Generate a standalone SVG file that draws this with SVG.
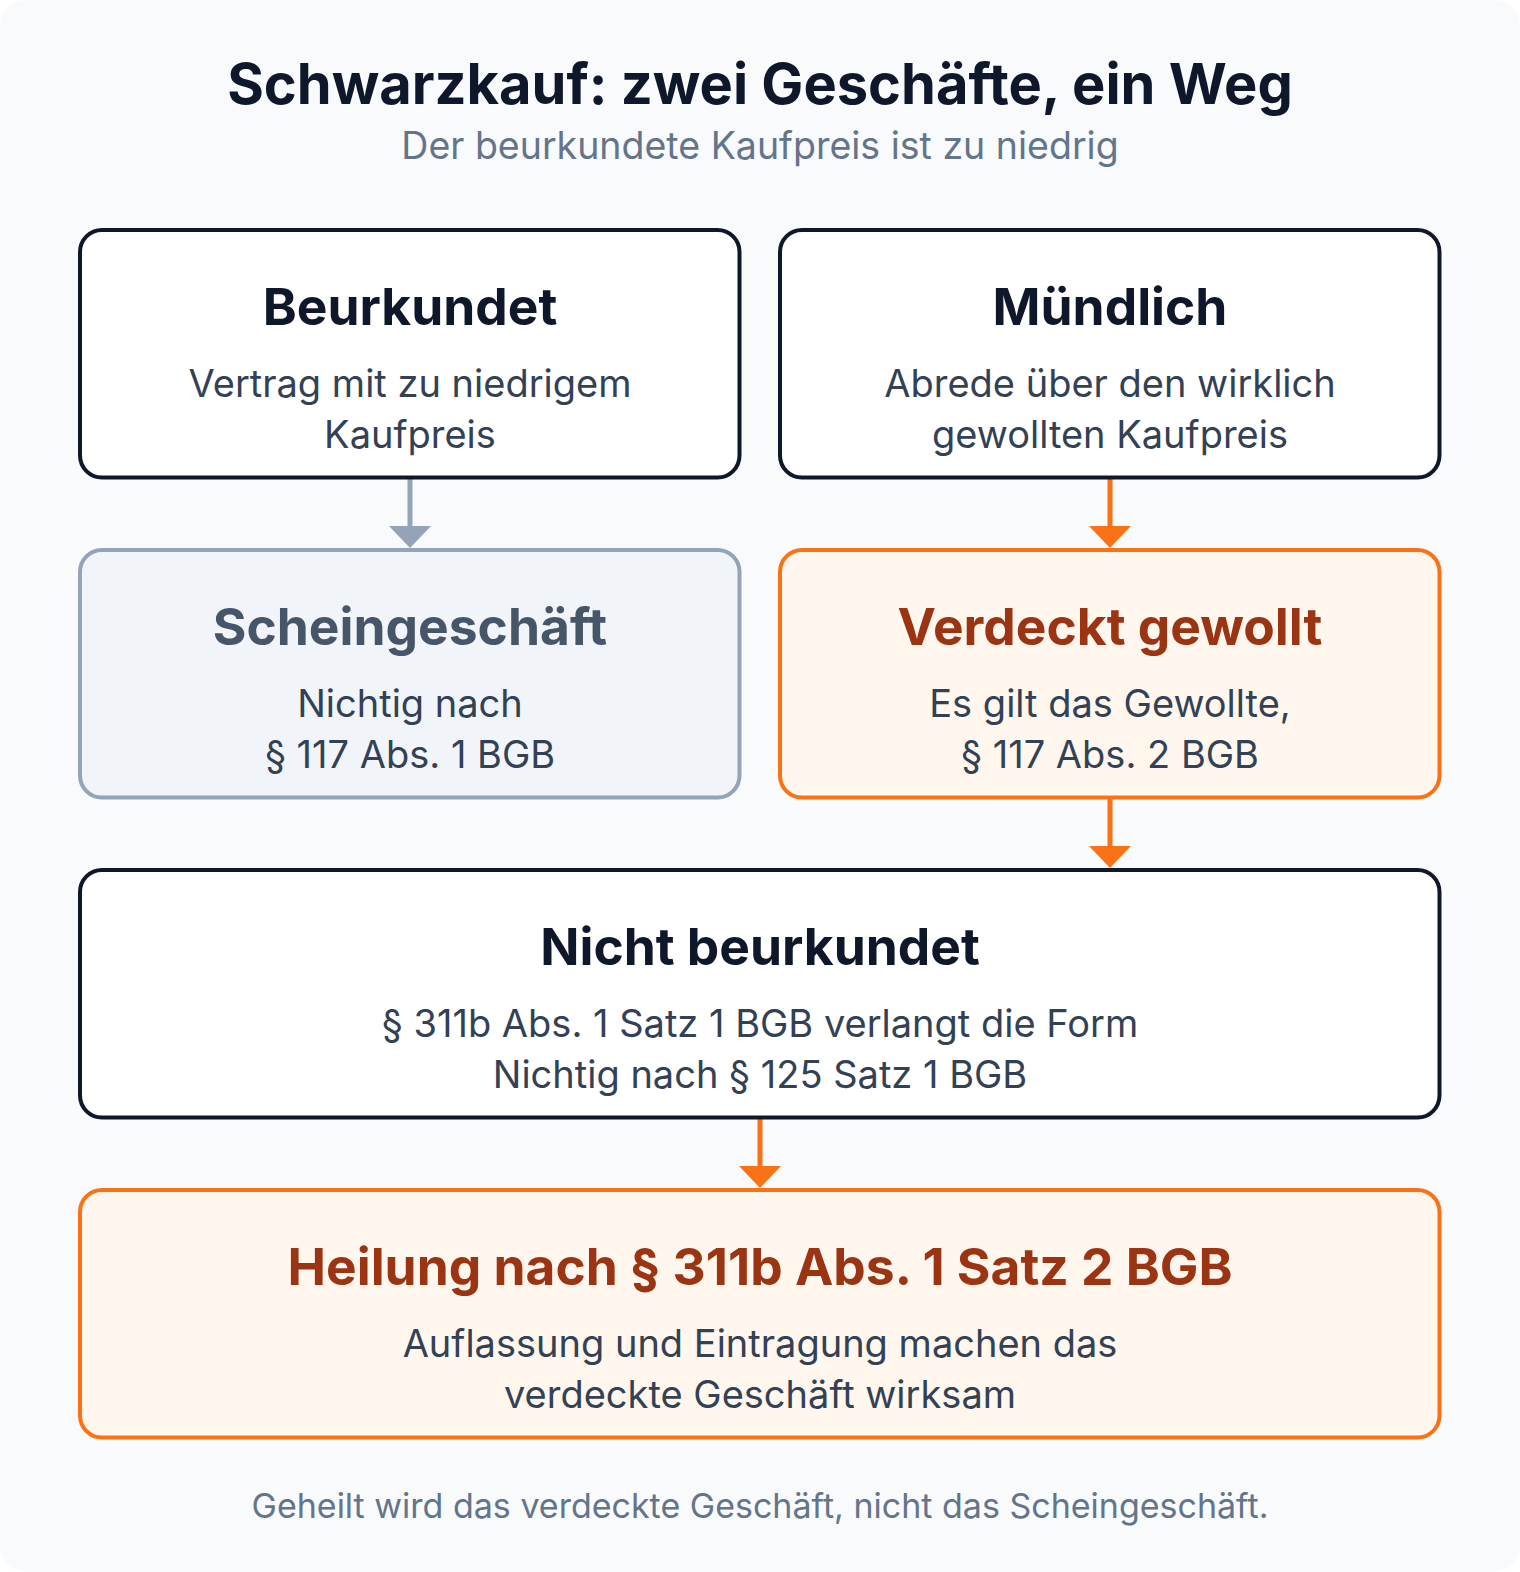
<svg xmlns="http://www.w3.org/2000/svg" width="1520" height="1572" viewBox="0 0 1520 1572">
  <style>
    .bg { fill: #f8fafc; }
    .title { font-family: Inter, "Noto Sans", "Liberation Sans", sans-serif; font-weight: 700; font-size: 56px; fill: #0f172a; text-anchor: middle; }
    .subtitle { font-family: Inter, "Noto Sans", "Liberation Sans", sans-serif; font-size: 37.5px; fill: #64748b; text-anchor: middle; }
    .footer { font-family: Inter, "Noto Sans", "Liberation Sans", sans-serif; font-size: 34px; fill: #64748b; text-anchor: middle; }
    .box-plain { fill: #ffffff; stroke: #0f172a; stroke-width: 4; }
    .box-grey { fill: #f1f5f9; stroke: #94a3b8; stroke-width: 4; }
    .box-orange { fill: #fff7ed; stroke: #f97316; stroke-width: 4; }
    .h { font-family: Inter, "Noto Sans", "Liberation Sans", sans-serif; font-weight: 700; font-size: 51.5px; text-anchor: middle; }
    .h-dark { fill: #0f172a; }
    .h-grey { fill: #475569; }
    .h-orange { fill: #9a3412; }
    .b { font-family: Inter, "Noto Sans", "Liberation Sans", sans-serif; font-size: 38px; fill: #334155; text-anchor: middle; }
    .edge-grey { stroke: #94a3b8; stroke-width: 5; fill: none; }
    .edge-orange { stroke: #f97316; stroke-width: 5; fill: none; }
  </style>

  <rect class="bg" x="0" y="0" width="1520" height="1572" rx="26"/>

  <text class="title" x="760" y="104">Schwarzkauf: zwei Geschäfte, ein Weg</text>
  <text class="subtitle" x="760" y="159">Der beurkundete Kaufpreis ist zu niedrig</text>

  <g id="connectors">
    <line class="edge-grey" x1="410" y1="478" x2="410" y2="528"/>
    <path d="M389,526 L431,526 L410,548 Z" fill="#94a3b8"/>
    <line class="edge-orange" x1="1110" y1="478" x2="1110" y2="528"/>
    <path d="M1089,526 L1131,526 L1110,548 Z" fill="#f97316"/>
    <line class="edge-orange" x1="1110" y1="798" x2="1110" y2="848"/>
    <path d="M1089,846 L1131,846 L1110,868 Z" fill="#f97316"/>
    <line class="edge-orange" x1="760" y1="1118" x2="760" y2="1168"/>
    <path d="M739,1166 L781,1166 L760,1188 Z" fill="#f97316"/>
  </g>

  <g id="node-beurkundet">
    <rect class="box-plain" x="80" y="230" width="659.5" height="247.5" rx="22"/>
    <text class="h h-dark" x="410" y="325">Beurkundet</text>
    <text class="b" x="410" y="397">Vertrag mit zu niedrigem</text>
    <text class="b" x="410" y="448">Kaufpreis</text>
  </g>

  <g id="node-muendlich">
    <rect class="box-plain" x="780" y="230" width="659.5" height="247.5" rx="22"/>
    <text class="h h-dark" x="1110" y="325">Mündlich</text>
    <text class="b" x="1110" y="397">Abrede über den wirklich</text>
    <text class="b" x="1110" y="448">gewollten Kaufpreis</text>
  </g>

  <g id="node-scheingeschaeft">
    <rect class="box-grey" x="80" y="550" width="659.5" height="247.5" rx="22"/>
    <text class="h h-grey" x="410" y="645">Scheingeschäft</text>
    <text class="b" x="410" y="717">Nichtig nach</text>
    <text class="b" x="410" y="768">§ 117 Abs. 1 BGB</text>
  </g>

  <g id="node-verdeckt">
    <rect class="box-orange" x="780" y="550" width="659.5" height="247.5" rx="22"/>
    <text class="h h-orange" x="1110" y="645">Verdeckt gewollt</text>
    <text class="b" x="1110" y="717">Es gilt das Gewollte,</text>
    <text class="b" x="1110" y="768">§ 117 Abs. 2 BGB</text>
  </g>

  <g id="node-nicht-beurkundet">
    <rect class="box-plain" x="80" y="870" width="1359.5" height="247.5" rx="22"/>
    <text class="h h-dark" x="760" y="965">Nicht beurkundet</text>
    <text class="b" x="760" y="1037">§ 311b Abs. 1 Satz 1 BGB verlangt die Form</text>
    <text class="b" x="760" y="1088">Nichtig nach § 125 Satz 1 BGB</text>
  </g>

  <g id="node-heilung">
    <rect class="box-orange" x="80" y="1190" width="1359.5" height="247.5" rx="22"/>
    <text class="h h-orange" x="760" y="1285">Heilung nach § 311b Abs. 1 Satz 2 BGB</text>
    <text class="b" x="760" y="1357">Auflassung und Eintragung machen das</text>
    <text class="b" x="760" y="1408">verdeckte Geschäft wirksam</text>
  </g>

  <text class="footer" x="760" y="1518">Geheilt wird das verdeckte Geschäft, nicht das Scheingeschäft.</text>
</svg>
